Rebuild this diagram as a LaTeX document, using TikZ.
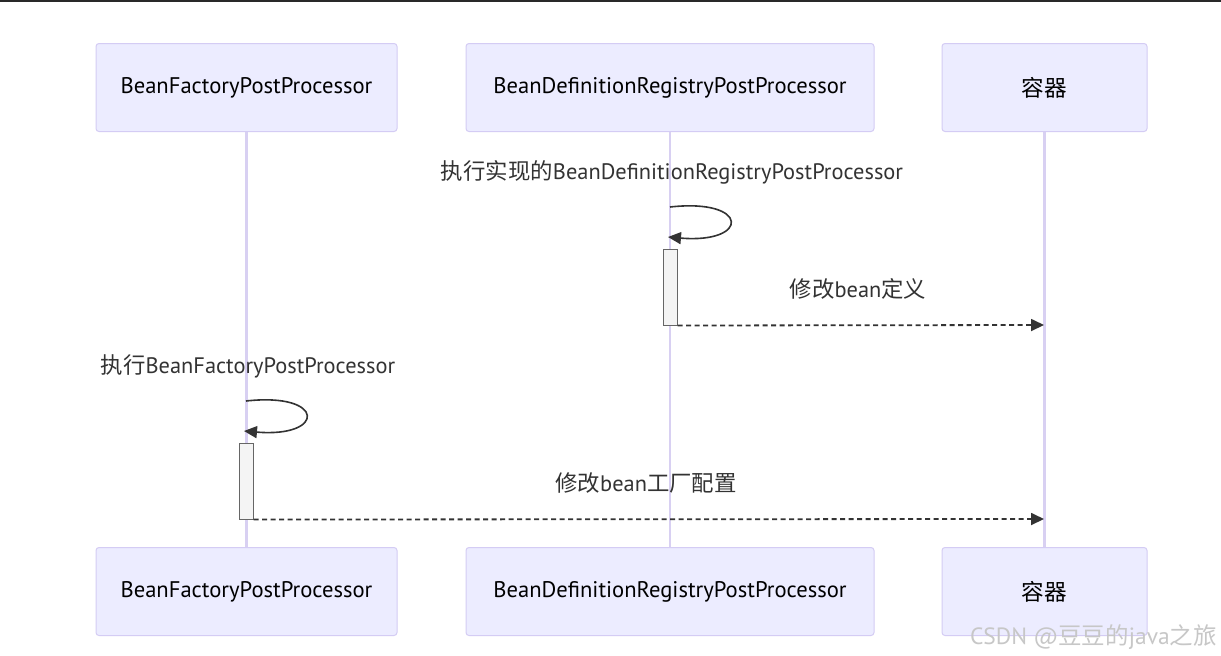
\documentclass[tikz,border=0pt]{standalone}
\usepackage{fontspec}
\setmainfont{PT Sans}
\newfontfamily\cjk{Noto Sans CJK SC}
\usetikzlibrary{arrows.meta}
\definecolor{boxfill}{HTML}{ECECFF}
\definecolor{boxline}{HTML}{D4CCF4}
\definecolor{lifeline}{HTML}{D8D0F2}
\definecolor{ink}{HTML}{333333}
\definecolor{actfill}{HTML}{F4F4F4}
\definecolor{actline}{HTML}{666666}
\tikzset{
  actor/.style={draw=boxline, fill=boxfill, line width=1pt, rounded corners=3pt, minimum height=88pt, inner sep=0pt, font=\fontsize{22.6}{26}\selectfont, text=black},
  life/.style={draw=lifeline, line width=2.2pt},
  msg/.style={font=\fontsize{22.4}{26}\selectfont, text=ink, inner sep=0pt},
  loopline/.style={draw=ink, line width=1.6pt, -{Triangle[length=13pt,width=12pt]}},
  reply/.style={draw=ink, line width=1.8pt, dash pattern=on 5pt off 3.5pt, -{Triangle[length=13pt,width=12pt]}},
  actbox/.style={draw=actline, fill=actfill, line width=1pt, minimum width=14pt, minimum height=76pt, inner sep=0pt},
}
\begin{document}
\begin{tikzpicture}[x=1pt,y=-1pt]
\useasboundingbox (0,0) rectangle (1221,656);
\fill[white] (0,0) rectangle (1221,656);
\fill[ink!80!black] (0,0) rectangle (1221,2);
% actors top
\node[actor, minimum width=301pt] (a1) at (246.5,87.5) {\raisebox{-2pt}{BeanFactoryPostProcessor}};
\node[actor, minimum width=408pt] (a2) at (670,87.5) {\raisebox{-2pt}{BeanDefinitionRegistryPostProcessor}};
\node[actor, minimum width=205pt] (a3) at (1044.5,87.5) {\cjk 容器};
% actors bottom
\node[actor, minimum width=301pt] (b1) at (246.5,591.5) {\raisebox{-2pt}{BeanFactoryPostProcessor}};
\node[actor, minimum width=408pt] (b2) at (670,591.5) {\raisebox{-2pt}{BeanDefinitionRegistryPostProcessor}};
\node[actor, minimum width=205pt] (b3) at (1044.5,591.5) {\cjk 容器};
% lifelines
\draw[life] (a1.south) -- (b1.north);
\draw[life] (a2.south) -- (b2.north);
\draw[life] (a3.south) -- (b3.north);
% first message
\node[msg] (m1) at (672,172) {{\cjk 执行实现的}BeanDefinitionRegistryPostProcessor};
\coordinate (l1s) at (670,207);
\coordinate (l1e) at (668,237);
\draw[loopline] (l1s) .. controls (750,198) and (750,244) .. (l1e);
\node[actbox] (act1) at (670,287) {};
\coordinate (t1) at (1044,325);
\draw[reply] (act1.south east) -- (t1);
\node[msg] (m2) at (858,289) {{\cjk 修改}bean{\cjk 定义}};
% second message
\node[msg] (m3) at (248,366) {{\cjk 执行}BeanFactoryPostProcessor};
\coordinate (l2s) at (246,401);
\coordinate (l2e) at (244,431);
\draw[loopline] (l2s) .. controls (326,392) and (326,438) .. (l2e);
\node[actbox] (act2) at (246,481) {};
\coordinate (t2) at (1044,519);
\draw[reply] (act2.south east) -- (t2);
\node[msg] (m4) at (646,483) {{\cjk 修改}bean{\cjk 工厂配置}};
% watermark
\node[font=\fontsize{23.5}{27}\selectfont, text=black!22, inner sep=0pt, anchor=east] (wm) at (1217,637) {CSDN @{\cjk 豆豆的}java{\cjk 之旅}};
\end{tikzpicture}
\end{document}
